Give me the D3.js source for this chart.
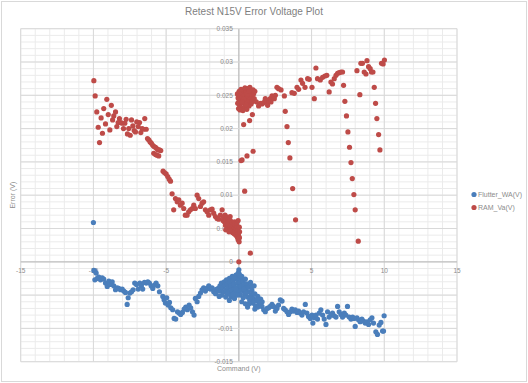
<!DOCTYPE html>
<meta charset="utf-8">
<style>
  body { margin: 0; background: #fff; font-family: "Liberation Sans", Arial, sans-serif; }
  .tick-label { fill: #8c8c8c; font-size: 6.5px; }
  .axis-title { fill: #8c8c8c; font-size: 7px; }
  .legend-text { fill: #8c8c8c; font-size: 7px; }
</style>
<body></body>
<script src="https://cdn.jsdelivr.net/npm/d3@7"></script>
<script>

// tick values
var xMajor = [-15, -10, -5, 0, 5, 10, 15];
var yMajor = [-0.015, -0.01, -0.005, 0, 0.005, 0.01, 0.015, 0.02, 0.025, 0.03, 0.035];
var yLabels = ["-0.015", "-0.01", "-0.005", "0", "0.005", "0.01", "0.015", "0.02", "0.025", "0.03", "0.035"];

var seriesNames = ["Flutter_WA(V)", "RAM_Va(V)"];
var seriesColors = ["#4a7ebb", "#be4b48"];

// Flutter_WA(V): [command, error]
var flutterWA = [
  [-10, 0.0059],
  [-9.97,-0.0013],[-9.9,-0.0014],[-9.81,-0.0017],[-9.9,-0.0027],[-9.74,-0.0025],[-9.63,-0.0023],
  [-9.51,-0.0027],[-9.4,-0.0024],[-9.29,-0.0026],[-9.17,-0.0032],[-9.05,-0.0037],[-8.94,-0.0029],
  [-8.83,-0.0034],[-8.71,-0.0030],[-8.6,-0.0036],[-8.48,-0.0042],[-8.37,-0.0039],[-8.26,-0.0040],
  [-8.14,-0.0042],[-8.02,-0.0041],[-7.91,-0.0044],[-7.8,-0.0046],[-7.68,-0.0064],[-7.61,-0.0054],
  [-7.5,-0.0047],[-7.38,-0.0045],[-7.27,-0.0042],[-7.16,-0.0032],[-7.04,-0.0034],[-6.92,-0.0041],
  [-6.81,-0.0032],[-6.7,-0.0036],[-6.61,-0.0041],[-6.49,-0.0031],[-6.37,-0.0032],[-6.26,-0.0030],
  [-6.15,-0.0032],[-6.03,-0.0036],[-5.92,-0.0040],[-5.8,-0.0035],[-5.69,-0.0032],[-5.57,-0.0036],
  [-5.46,-0.0045],[-5.23,-0.0052],[-5.14,-0.0057],[-5.05,-0.0062],[-4.96,-0.0054],[-4.86,-0.0065],
  [-4.77,-0.0061],[-4.68,-0.0069],[-4.55,-0.0072],[-4.45,-0.0085],[-4.34,-0.0086],[-4.22,-0.0075],
  [-4.11,-0.0077],[-4.0,-0.0079],[-3.88,-0.0076],[-3.76,-0.0071],[-3.65,-0.0068],[-3.54,-0.0072],
  [-3.42,-0.0065],[-3.31,-0.0069],[-3.19,-0.0075],[-3.08,-0.0080],[-2.99,-0.0055],[-2.87,-0.0060],
  [-2.76,-0.0052],[-2.64,-0.0047],[-2.53,-0.0042],[-2.42,-0.0039],[-2.3,-0.0044],[-2.18,-0.0040],
  [-2.07,-0.0036],[-1.96,-0.0041],[-1.84,-0.0039],[-1.73,-0.0045],[-1.61,-0.0042],[-1.5,-0.0041],
  [-1.39,-0.0044],
  [-1.4,-0.0040],[-1.3,-0.0036],[-1.25,-0.0043],[-1.2,-0.0032],[-1.1,-0.0038],[-1.05,-0.0045],
  [-1.0,-0.0030],[-0.95,-0.0035],[-0.9,-0.0042],[-0.85,-0.0027],[-0.8,-0.0033],[-0.75,-0.0039],
  [-0.7,-0.0046],[-0.65,-0.0025],[-0.6,-0.0031],[-0.55,-0.0037],[-0.5,-0.0043],[-0.45,-0.0022],
  [-0.4,-0.0028],[-0.35,-0.0034],[-0.3,-0.0040],[-0.25,-0.0047],[-0.2,-0.0020],[-0.15,-0.0026],
  [-0.1,-0.0032],[-0.05,-0.0038],[0,-0.0044],[0,-0.0012],[0.02,-0.0018],[0.05,-0.0025],
  [0.08,-0.0031],[0.1,-0.0050],[0.15,-0.0037],[0.2,-0.0022],[0.25,-0.0043],[0.3,-0.0029],
  [0.35,-0.0035],[0.4,-0.0048],[0.45,-0.0026],[0.5,-0.0040],[0.55,-0.0033],[0.6,-0.0053],
  [0.65,-0.0045],[0.7,-0.0038],[0.75,-0.0058],[0.8,-0.0031],[0.85,-0.0050],[0.9,-0.0043],
  [0.95,-0.0062],[1.0,-0.0055],[1.05,-0.0036],[1.1,-0.0048],[1.15,-0.0066],[1.2,-0.0058],
  [1.3,-0.0052],[1.4,-0.0062],[1.5,-0.0056],[-0.55,-0.0052],[-0.3,-0.0055],[-0.1,-0.0050],
  [0.2,-0.0060],[0.45,-0.0063],[0.6,-0.0068],[-0.31,-0.0024],[-0.8,-0.0048],[-1.15,-0.0050],
  [-0.9,-0.0053],[-0.65,-0.0058],[-0.4,-0.0049],[-0.2,-0.0041],[0.1,-0.0021],[0.3,-0.0054],
  [0.5,-0.0047],[0.7,-0.0063],[0.9,-0.0037],[1.1,-0.0071],[1.3,-0.0068],[1.6,-0.0060],
  [-1.6,-0.0048],[-1.35,-0.0052],[-0.05,-0.0017],[0.35,-0.0041],
  [0.79,-0.0055],[1.02,-0.0060],[1.25,-0.0057],[1.36,-0.0065],[1.48,-0.0062],[1.59,-0.0067],
  [1.71,-0.0072],[1.82,-0.0075],[1.94,-0.0070],[2.05,-0.0069],[2.16,-0.0067],[2.28,-0.0064],
  [2.39,-0.0067],[2.51,-0.0074],[2.62,-0.0070],[2.73,-0.0065],[2.85,-0.0057],[2.97,-0.0059],
  [3.08,-0.0070],[3.19,-0.0072],[3.31,-0.0075],[3.42,-0.0079],[3.54,-0.0075],[3.65,-0.0071],
  [3.76,-0.0074],[3.88,-0.0072],[4.0,-0.0076],[4.11,-0.0074],[4.22,-0.0077],[4.34,-0.0080],
  [4.45,-0.0075],[4.57,-0.0064],[4.68,-0.0077],[4.79,-0.0082],[4.91,-0.0085],[5.03,-0.0080],
  [5.09,-0.0092],[5.19,-0.0084],[5.3,-0.0080],[5.41,-0.0086],[5.53,-0.0077],[5.64,-0.0072],
  [5.76,-0.0080],[5.87,-0.0086],[5.99,-0.0094],[6.1,-0.0075],[6.21,-0.0083],[6.33,-0.0080],
  [6.44,-0.0077],[6.56,-0.0081],[6.68,-0.0083],[6.79,-0.0067],[6.9,-0.0075],[7.02,-0.0079],
  [7.13,-0.0083],[7.25,-0.0077],[7.36,-0.0080],[7.47,-0.0067],[7.59,-0.0083],[7.71,-0.0086],
  [7.82,-0.0083],[7.93,-0.0085],[8.0,-0.0097],[8.12,-0.0084],[8.23,-0.0087],[8.34,-0.0090],
  [8.46,-0.0086],[8.57,-0.0089],[8.69,-0.0092],[8.81,-0.0090],[8.92,-0.0094],[9.03,-0.0087],
  [9.15,-0.0084],[9.26,-0.0092],[9.42,-0.0105],[9.53,-0.0109],[9.65,-0.0095],[9.77,-0.0091],
  [9.88,-0.0104],[9.99,-0.0081],[9.95,-0.0104]
];

// RAM_Va(V): [command, error]
var ramVa = [
  [-9.97,0.0272],[-9.88,0.0249],[-9.77,0.0225],[-9.67,0.0202],[-9.58,0.0179],[-9.47,0.0216],
  [-9.38,0.0193],[-9.29,0.0230],[-9.17,0.0207],[-9.08,0.0244],[-8.98,0.0221],[-8.87,0.0198],
  [-8.77,0.0235],[-8.68,0.0213],[-8.6,0.0219],[-8.48,0.0225],[-8.39,0.0203],[-8.3,0.0209],
  [-8.21,0.0215],[-8.12,0.0209],[-8.02,0.0208],[-7.93,0.0200],[-7.84,0.0208],[-7.75,0.0214],
  [-7.66,0.0192],[-7.57,0.0200],[-7.47,0.0190],[-7.38,0.0213],[-7.29,0.0204],[-7.2,0.0197],
  [-7.11,0.0195],[-7.02,0.0210],[-6.92,0.0203],[-6.83,0.0209],[-6.74,0.0194],[-6.65,0.0200],
  [-6.56,0.0199],[-6.47,0.0215],[-6.37,0.0199],[-6.28,0.0185],[-6.19,0.0183],[-6.1,0.0180],
  [-6.01,0.0178],[-5.92,0.0175],[-5.83,0.0173],[-5.73,0.0172],[-5.65,0.0170],[-5.55,0.0168],
  [-5.46,0.0168],[-5.37,0.0167],[-5.85,0.0163],[-5.73,0.0161],[-5.62,0.0160],[-5.51,0.0159],
  [-5.21,0.0136],[-5.12,0.0134],[-5.0,0.0132],[-4.89,0.0128],[-4.79,0.0124],[-4.7,0.0121],
  [-4.59,0.0102],[-4.48,0.0078],[-4.36,0.0095],[-4.24,0.0090],[-4.13,0.0093],[-4.02,0.0085],
  [-3.9,0.0088],[-3.79,0.0080],[-3.68,0.0070],[-3.56,0.0070],[-3.45,0.0075],[-3.33,0.0078],
  [-3.21,0.0080],[-3.1,0.0085],[-2.99,0.0080],[-2.87,0.0100],[-2.76,0.0095],[-2.64,0.0083],
  [-2.53,0.0088],[-2.42,0.0090],[-2.3,0.0078],[-2.18,0.0075],[-2.07,0.0070],[-1.96,0.0078],
  [-1.84,0.0079],[-1.73,0.0073],[-1.61,0.0068],[-1.5,0.0065],[-1.39,0.0064],[-1.27,0.0070],
  [-1.15,0.0078],[-1.09,0.0062],
  [-1.05,0.0066],[-1.0,0.0060],[-0.95,0.0070],[-0.92,0.0055],[-0.88,0.0063],[-0.85,0.0058],
  [-0.8,0.0067],[-0.78,0.0052],[-0.75,0.0061],[-0.72,0.0056],[-0.7,0.0064],[-0.66,0.0049],
  [-0.64,0.0058],[-0.6,0.0053],[-0.58,0.0062],[-0.55,0.0047],[-0.52,0.0056],[-0.5,0.0051],
  [-0.46,0.0059],[-0.44,0.0044],[-0.4,0.0054],[-0.38,0.0048],[-0.35,0.0057],[-0.32,0.0042],
  [-0.3,0.0051],[-0.26,0.0046],[-0.24,0.0055],[-0.2,0.0040],[-0.18,0.0049],[-0.15,0.0044],
  [-0.12,0.0053],[-0.1,0.0037],[-0.08,0.0047],[-0.05,0.0033],[-0.03,0.0042],[0,0.0038],
  [0.02,0.0030],[0.05,0.0045],[-0.6,0.0068],[-0.9,0.0048],[-0.3,0.0060],[-0.15,0.0058],
  [0.03,0.0052],[-0.68,0.0045],[-0.05,0.0062],[0.04,0.0036],
  [0, 0], [0.79,0.0013], [0.4,0.0106], [0.15,0.0152],[0.22,0.0153],[0.56,0.0159],[0.98,0.0166],
  [0.33,0.0206],[0.74,0.0212],[0.93,0.0221],
  [-0.1,0.0252],[-0.05,0.0246],[0,0.0240],[0.05,0.0235],[0.1,0.0250],[-0.08,0.0238],
  [0.02,0.0256],[0.12,0.0243],[0.18,0.0231],[0.2,0.0254],[0.25,0.0247],[0.3,0.0239],
  [0.32,0.0258],[0.38,0.0250],[0.4,0.0233],[0.45,0.0244],[0.5,0.0255],[0.52,0.0238],
  [0.55,0.0229],[0.6,0.0248],[0.62,0.0260],[0.66,0.0242],[0.7,0.0234],[0.72,0.0252],
  [0.76,0.0262],[0.8,0.0245],[0.84,0.0237],[0.86,0.0256],[0.9,0.0249],[0.94,0.0241],
  [0.98,0.0258],[1.02,0.0252],[1.06,0.0245],[1.1,0.0256],[0.08,0.0228],[0.28,0.0227],
  [0.15,0.0259],[0.42,0.0261],[0.58,0.0252],[0.35,0.0244],[-0.02,0.0230],[0.48,0.0236],
  [0.68,0.0256],[0.88,0.0240],[0.22,0.0240],
  [1.2,0.0240],[1.36,0.0234],[1.48,0.0238],[1.59,0.0237],[1.7,0.0239],[1.82,0.0243],
  [1.94,0.0240],[2.05,0.0242],[2.16,0.0245],[2.28,0.0249],[2.39,0.0248],[2.51,0.0250],
  [1.82,0.0245],[1.98,0.0235],[2.21,0.0240],[2.44,0.0245],[2.62,0.0262],[2.73,0.0260],
  [2.9,0.0258],[3.13,0.0249],[3.19,0.0226],[3.31,0.0203],[3.4,0.0179],[3.51,0.0156],
  [3.7,0.0110],[3.9,0.0063],[3.65,0.0254],[3.81,0.0253],[4.0,0.0262],[4.11,0.0259],
  [4.27,0.0273],[4.38,0.0268],[4.55,0.0262],[4.73,0.0275],[4.84,0.0274],[5.03,0.0262],
  [5.19,0.0245],[5.3,0.0291],[5.41,0.0275],[5.6,0.0273],[5.76,0.0277],[5.92,0.0279],
  [6.05,0.0280],[6.21,0.0255],[6.33,0.0270],[6.44,0.0267],[6.56,0.0275],[6.68,0.0280],
  [6.79,0.0283],[6.9,0.0284],[7.02,0.0285],[7.13,0.0285],[7.2,0.0265],[7.29,0.0241],
  [7.4,0.0219],[7.5,0.0195],[7.61,0.0172],[7.71,0.0149],[7.8,0.0125],[7.91,0.0101],
  [8.0,0.0078],[8.21,0.0031],[8.12,0.0287],[8.32,0.0251],[8.39,0.0298],[8.5,0.0298],
  [8.62,0.0285],[8.74,0.0282],[8.81,0.0302],[8.92,0.0293],[9.03,0.0290],[9.12,0.0285],
  [9.22,0.0285],[9.31,0.0262],[9.4,0.0238],[9.49,0.0215],[9.61,0.0191],[9.7,0.0168],
  [9.81,0.0298],[9.92,0.0297],[10.01,0.0303]
];

var W = 528, H = 383;
var plot = {left: 20.7, right: 457, top: 28.7, bottom: 361.7};

var svg = d3.select("body").append("svg")
    .attr("width", W)
    .attr("height", H);

svg.append("rect")
    .attr("x", 1.5).attr("y", 1.5)
    .attr("width", W - 3).attr("height", H - 3)
    .attr("fill", "#fff")
    .attr("stroke", "#d9d9d9");

var x = d3.scaleLinear().domain([-15, 15]).range([plot.left, plot.right]);
var y = d3.scaleLinear().domain([-0.015, 0.035]).range([plot.bottom, plot.top]);

var grid = svg.append("g");

// minor gridlines
grid.selectAll(".xminor")
    .data(d3.range(-15, 15.01, 1))
    .enter().append("line")
    .attr("x1", d => x(d)).attr("x2", d => x(d))
    .attr("y1", plot.top).attr("y2", plot.bottom)
    .attr("stroke", "#ebebeb").attr("stroke-width", 1);

grid.selectAll(".yminor")
    .data(d3.range(-15, 35.01, 1))
    .enter().append("line")
    .attr("y1", d => y(d / 1000)).attr("y2", d => y(d / 1000))
    .attr("x1", plot.left).attr("x2", plot.right)
    .attr("stroke", "#ebebeb").attr("stroke-width", 1);

// major gridlines
grid.selectAll(".xmajor")
    .data(xMajor)
    .enter().append("line")
    .attr("x1", d => x(d)).attr("x2", d => x(d))
    .attr("y1", plot.top).attr("y2", plot.bottom)
    .attr("stroke", d => d == 0 ? "#bfbfbf" : "#d9d9d9")
    .attr("stroke-width", d => d == 0 ? 1.3 : 1);

grid.selectAll(".ymajor")
    .data(yMajor)
    .enter().append("line")
    .attr("y1", d => y(d)).attr("y2", d => y(d))
    .attr("x1", plot.left).attr("x2", plot.right)
    .attr("stroke", d => d == 0 ? "#bfbfbf" : "#d9d9d9")
    .attr("stroke-width", d => d == 0 ? 1.3 : 1);

// tick labels along the zero lines
svg.selectAll(".xlab")
    .data(xMajor)
    .enter().append("text")
    .attr("class", "tick-label")
    .attr("x", d => x(d))
    .attr("y", y(0) + 11)
    .attr("text-anchor", "middle")
    .text(d => d);

svg.selectAll(".ylab")
    .data(yMajor)
    .enter().append("text")
    .attr("class", "tick-label")
    .attr("x", x(0) - 6)
    .attr("y", d => y(d))
    .attr("dy", "0.35em")
    .attr("text-anchor", "end")
    .text((d, i) => yLabels[i]);

// points
var series = [flutterWA, ramVa];
series.forEach(function(data, i) {
    svg.append("g").selectAll("circle")
        .data(data)
        .enter().append("circle")
        .attr("cx", d => x(d[0]))
        .attr("cy", d => y(d[1]))
        .attr("r", 2.6)
        .attr("fill", seriesColors[i]);
});

// titles
svg.append("text")
    .attr("x", 254).attr("y", 15)
    .attr("text-anchor", "middle")
    .attr("fill", "#7f7f7f")
    .style("font-size", "10px")
    .text("Retest N15V Error Voltage Plot");

svg.append("text")
    .attr("class", "axis-title")
    .attr("x", (plot.left + plot.right) / 2).attr("y", 371)
    .attr("text-anchor", "middle")
    .text("Command (V)");

svg.append("text")
    .attr("class", "axis-title")
    .attr("transform", "translate(15," + ((plot.top + plot.bottom) / 2) + ") rotate(-90)")
    .attr("text-anchor", "middle")
    .text("Error (V)");

// legend
var legend = svg.append("g").selectAll("g")
    .data(seriesNames)
    .enter().append("g")
    .attr("transform", (d, i) => "translate(474," + (194.5 + i * 13) + ")");

legend.append("circle")
    .attr("r", 2.6)
    .attr("fill", (d, i) => seriesColors[i]);

legend.append("text")
    .attr("class", "legend-text")
    .attr("x", 4)
    .attr("dy", "0.35em")
    .text(d => d);

</script>
